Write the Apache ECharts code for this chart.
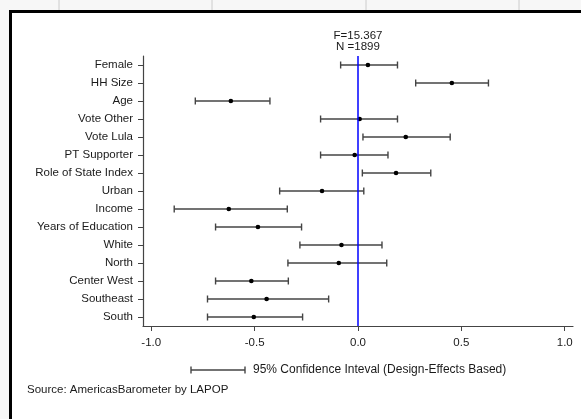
<!DOCTYPE html>
<html>
<head>
<meta charset="utf-8">
<script src="https://cdn.jsdelivr.net/npm/echarts@6/dist/echarts.min.js"></script>
<style>
html,body{margin:0;padding:0;background:#fff;}
#c{width:581px;height:419px;}
</style>
</head>
<body>
<div id="c"></div>
<script>
const categories = ['Female','HH Size','Age','Vote Other','Vote Lula','PT Supporter','Role of State Index','Urban','Income','Years of Education','White','North','Center West','Southeast','South'];
const estimates = [0.048, 0.454, -0.615, 0.008, 0.231, -0.016, 0.184, -0.174, -0.625, -0.484, -0.080, -0.093, -0.516, -0.442, -0.504];
const lower = [-0.084, 0.279, -0.787, -0.181, 0.024, -0.181, 0.021, -0.379, -0.889, -0.689, -0.281, -0.339, -0.689, -0.728, -0.728];
const upper = [0.191, 0.631, -0.426, 0.191, 0.446, 0.145, 0.352, 0.028, -0.342, -0.273, 0.116, 0.139, -0.337, -0.142, -0.268];
const xTicks = [-1.0, -0.5, 0.0, 0.5, 1.0];
const statsText = 'F=15.367\nN =1899';
const legendText = '95% Confidence Inteval (Design-Effects Based)';
const sourceText = 'Source: AmericasBarometer by LAPOP';

const FONT = 'Liberation Sans, Arial, sans-serif';
const chart = echarts.init(document.getElementById('c'), null, {renderer:'canvas'});

const ciData = categories.map((c, i) => [i, lower[i], upper[i], estimates[i]]);

function renderItem(params, api) {
  const yi = api.value(0);
  const lo = api.coord([api.value(1), yi]);
  const hi = api.coord([api.value(2), yi]);
  const mid = api.coord([api.value(3), yi]);
  const h = 3.5;
  const st = {stroke:'#444', lineWidth:1.4};
  return {
    type:'group',
    children:[
      {type:'line', shape:{x1:lo[0], y1:lo[1], x2:hi[0], y2:hi[1]}, style:st},
      {type:'line', shape:{x1:lo[0], y1:lo[1]-h, x2:lo[0], y2:lo[1]+h}, style:st},
      {type:'line', shape:{x1:hi[0], y1:hi[1]-h, x2:hi[0], y2:hi[1]+h}, style:st},
      {type:'circle', shape:{cx:mid[0], cy:mid[1], r:2.3}, style:{fill:'#000'}}
    ]
  };
}

const option = {
  animation:false,
  backgroundColor:'#f7f7f7',
  graphic:[
    {type:'rect', z:-10, shape:{x:10, y:10, width:600, height:450}, style:{fill:'#fff'}},
    {type:'line', z:-5, shape:{x1:59, y1:0, x2:59, y2:10}, style:{stroke:'#cccccc', lineWidth:1}},
    {type:'line', z:-5, shape:{x1:212, y1:0, x2:212, y2:10}, style:{stroke:'#cccccc', lineWidth:1}},
    {type:'line', z:-5, shape:{x1:366, y1:0, x2:366, y2:10}, style:{stroke:'#cccccc', lineWidth:1}},
    {type:'line', z:-5, shape:{x1:519, y1:0, x2:519, y2:10}, style:{stroke:'#cccccc', lineWidth:1}},
    {type:'line', shape:{x1:10.5, y1:10, x2:10.5, y2:419}, style:{stroke:'#000', lineWidth:3}},
    {type:'line', shape:{x1:9, y1:11.5, x2:581, y2:11.5}, style:{stroke:'#000', lineWidth:3}},
    {type:'group', children:[
      {type:'line', shape:{x1:191, y1:370, x2:245, y2:370}, style:{stroke:'#444', lineWidth:1.4}},
      {type:'line', shape:{x1:191, y1:366.5, x2:191, y2:373.5}, style:{stroke:'#444', lineWidth:1.4}},
      {type:'line', shape:{x1:245, y1:366.5, x2:245, y2:373.5}, style:{stroke:'#444', lineWidth:1.4}},
      {type:'text', style:{x:253, y:370, text:legendText, font:'12px '+FONT, fill:'#1a1a1a', verticalAlign:'middle'}}
    ]},
    {type:'text', style:{x:27, y:390, text:sourceText, font:'11.5px '+FONT, fill:'#1a1a1a', verticalAlign:'middle'}}
  ],
  grid:{left:143, right:8, top:56, bottom:93, containLabel:false},
  xAxis:{
    type:'value', min:-1.04, max:1.04,
    axisLine:{show:true, lineStyle:{color:'#444', width:1.2}},
    axisTick:{show:true, length:5, lineStyle:{color:'#444'}, customValues:xTicks},
    axisLabel:{customValues:xTicks, formatter:v => v.toFixed(1), color:'#1a1a1a', fontSize:11.5, fontFamily:FONT, margin:11},
    splitLine:{show:false}
  },
  yAxis:{
    type:'category', data:categories, inverse:true,
    axisLine:{show:true, onZero:false, lineStyle:{color:'#444', width:1.2}},
    axisTick:{show:true, alignWithLabel:true, length:5, lineStyle:{color:'#444'}},
    axisLabel:{color:'#1a1a1a', fontSize:11.5, fontFamily:FONT, margin:10},
    splitLine:{show:false}
  },
  series:[{
    type:'custom',
    renderItem:renderItem,
    data:ciData,
    encode:{x:[1,2,3], y:0},
    markLine:{
      silent:true, symbol:'none',
      lineStyle:{color:'#0000ff', width:1.5, type:'solid'},
      label:{show:true, position:'start', formatter:statsText, color:'#1a1a1a', fontSize:11.5, fontFamily:FONT, lineHeight:11, distance:4},
      data:[{xAxis:0}]
    }
  }]
};
chart.setOption(option);
</script>
</body>
</html>
